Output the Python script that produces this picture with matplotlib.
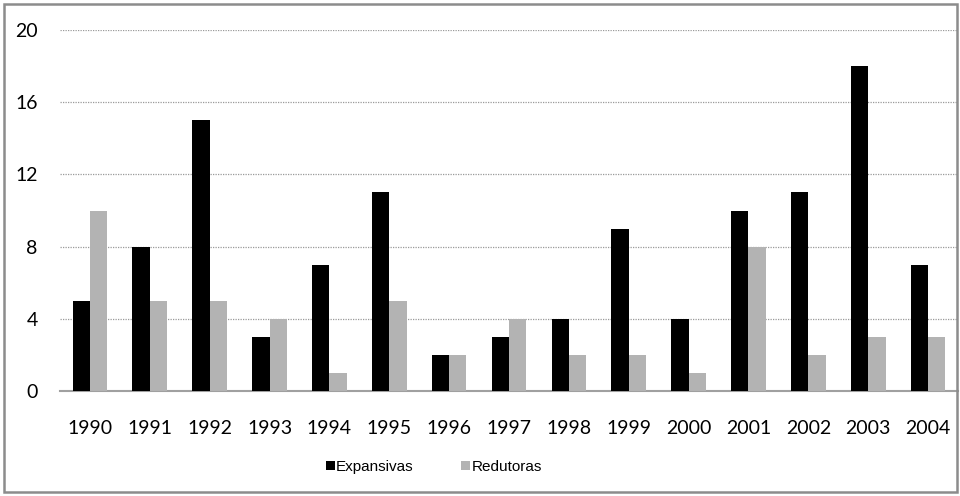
import numpy as np
import matplotlib.pyplot as plt
from matplotlib.patches import Rectangle

# dados
anos = ['1990', '1991', '1992', '1993', '1994', '1995', '1996', '1997',
        '1998', '1999', '2000', '2001', '2002', '2003', '2004']
expansivas = [5, 8, 15, 3, 7, 11, 2, 3, 4, 9, 4, 10, 11, 18, 7]
redutoras = [10, 5, 5, 4, 1, 5, 2, 4, 2, 2, 1, 8, 2, 3, 3]

fig = plt.figure(figsize=(9.6, 4.96), dpi=100)
ax = fig.add_axes([60/960, 1 - 391/496, 898/960, 361/496])

x = np.arange(len(anos))
w = 0.29
b1 = ax.bar(x - w/2, expansivas, w, color='black', label='Expansivas', zorder=3)
b2 = ax.bar(x + w/2, redutoras, w, color='#b3b3b3', label='Redutoras', zorder=3)

ax.set_xlim(-0.5, len(anos) - 0.5)
ax.set_ylim(0, 20)
ax.set_yticks([0, 4, 8, 12, 16, 20])
ax.set_xticks(x)
ax.set_xticklabels(anos)
ax.yaxis.grid(True, linestyle=(0, (1, 1)), color='#9a9a9a', linewidth=0.9, zorder=0)

for s in ['top', 'right', 'left']:
    ax.spines[s].set_visible(False)
ax.spines['bottom'].set_color('#a0a0a0')
ax.spines['bottom'].set_linewidth(1.5)
ax.tick_params(length=0, labelsize=14)
ax.tick_params(axis='y', pad=16)
ax.tick_params(axis='x', pad=21)
for t in ax.get_xticklabels() + ax.get_yticklabels():
    t.set_fontfamily(['Lato', 'DejaVu Sans'])

fig.legend(handles=[b1, b2], loc='center', bbox_to_anchor=(0.452, 1 - 467/496),
           ncol=2, frameon=False, handlelength=0.6, handleheight=0.6,
           handletextpad=0.1, columnspacing=3.1,
           prop={'family': 'Liberation Sans', 'size': 11})

# moldura
fig.patches.append(Rectangle((4/960, 4/496), 953/960, 488/496, transform=fig.transFigure,
                             fill=False, edgecolor='#8c8c8c', linewidth=1.8))

plt.savefig('out.png', dpi=100)
